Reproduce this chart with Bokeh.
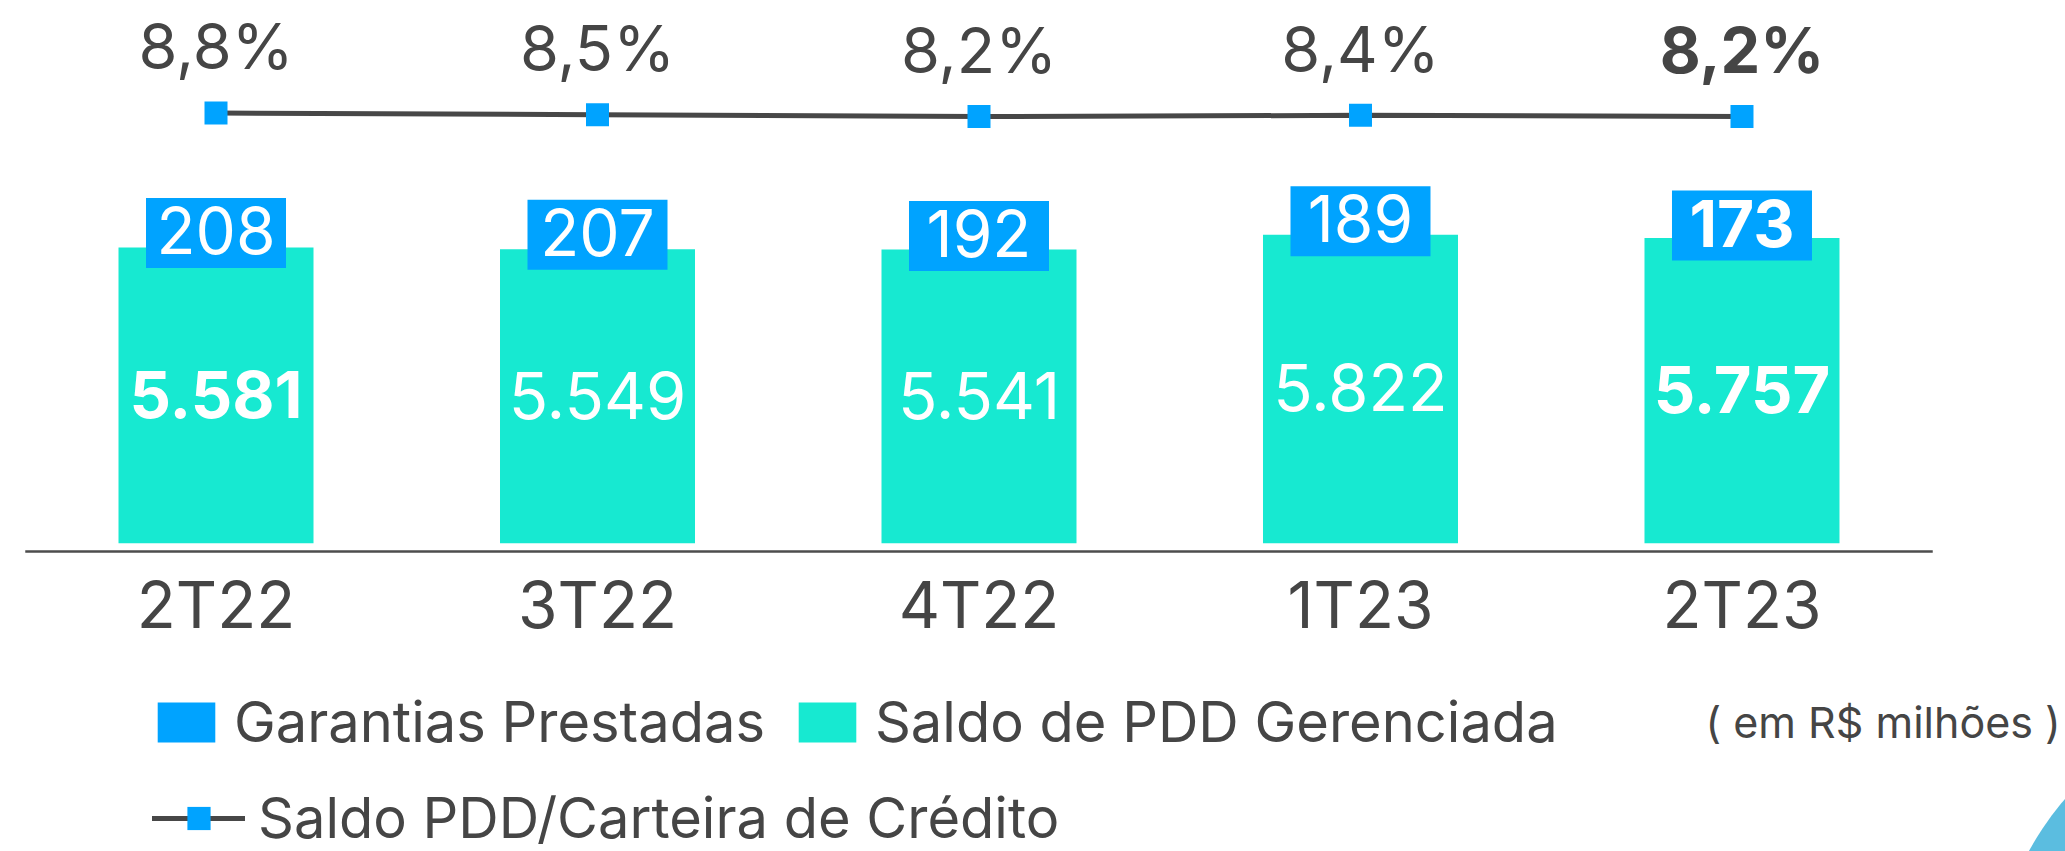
from bokeh.plotting import figure
from bokeh.models import ColumnDataSource, Range1d, Legend, LegendItem, Label
from bokeh.core.properties import value
from bokeh.embed import file_html
from bokeh.resources import INLINE

# ---------------- data ----------------
categorias = ["2T22", "3T22", "4T22", "1T23", "2T23"]
saldo_pdd_gerenciada = [5581, 5549, 5541, 5822, 5757]
garantias_prestadas = [208, 207, 192, 189, 173]
pdd_carteira = [8.8, 8.5, 8.2, 8.4, 8.2]
rotulos_barra = ["5.581", "5.549", "5.541", "5.822", "5.757"]
rotulos_garantia = ["208", "207", "192", "189", "173"]
rotulos_pct = ["8,8%", "8,5%", "8,2%", "8,4%", "8,2%"]

# ---------------- styles ----------------
estilo_barra = ["bold", "normal", "normal", "normal", "bold"]
estilo_garantia = ["normal", "normal", "normal", "normal", "bold"]
estilo_pct = ["normal", "normal", "normal", "normal", "bold"]

AZUL = "#00A3FF"
TURQUESA = "#17E9D1"
CINZA = "#454545"
DECOR = "#5BBDE0"
FONT_NAME = "Inter"
FONTE = value(FONT_NAME)
BASE_FIX = 0.37  # baseline correction (em) for alphabetic text

W, H = 2065, 851
X_START, X_END = -0.5649, 4.848
Y_START, Y_END = -5818, 10241
Y2_START, Y2_END = -117.87, 28.10
px_y = (Y_END - Y_START) / H
px_x = (X_END - X_START) / W

x = list(range(len(categorias)))
topo = [a + b for a, b in zip(saldo_pdd_gerenciada, garantias_prestadas)]
src = ColumnDataSource(dict(
    x=x,
    cat=categorias,
    pdd=saldo_pdd_gerenciada,
    gar=garantias_prestadas,
    topo=topo,
    meio=[v / 2 for v in saldo_pdd_gerenciada],
    caixa=[t + 3.5 * px_y for t in topo],
    pct=pdd_carteira,
    rot_barra=rotulos_barra,
    rot_gar=rotulos_garantia,
    rot_pct=rotulos_pct,
    est_barra=estilo_barra,
    est_gar=estilo_garantia,
    est_pct=estilo_pct,
))

p = figure(width=W, height=H, output_backend="svg", toolbar_location=None,
           x_range=Range1d(X_START, X_END), y_range=Range1d(Y_START, Y_END),
           x_axis_location=None, y_axis_location=None, min_border=0,
           outline_line_color=None, background_fill_color="white",
           border_fill_color="white")
p.grid.visible = False
p.extra_y_ranges = {"pct": Range1d(Y2_START, Y2_END)}

# slide decoration in the lower-right corner (screen-placed)
p.circle(x=X_START + 2300 * px_x, y=Y_END - 1000 * px_y, radius=310,
         radius_units="screen", fill_color=DECOR, line_color=None)

BAR_W = 195 * px_x
BOX_W, BOX_H = 140, 70
r_teal = p.vbar(x="x", width=BAR_W, bottom=0, top="pdd", source=src,
                fill_color=TURQUESA, line_color=None)
# Garantias Prestadas segment (sits beneath its label box)
r_blue = p.vbar(x="x", width=(BOX_W - 4) * px_x, bottom="pdd", top="topo",
                source=src, fill_color=AZUL, line_color=None)

# label boxes for Garantias Prestadas
p.rect(x="x", y="caixa", width=BOX_W, height=BOX_H, width_units="screen",
       height_units="screen", source=src, fill_color=AZUL, line_color=None)
FS_BOX = 64
p.text(x="x", y="caixa", text="rot_gar", source=src, text_align="center",
       text_baseline="alphabetic", y_offset=21.3 - BASE_FIX * FS_BOX,
       text_font=FONTE, text_font_size=f"{FS_BOX}px", text_color="white",
       text_font_style="est_gar")

# labels inside teal bars
FS_BAR = 65
p.text(x="x", y="meio", text="rot_barra", source=src, text_align="center",
       text_baseline="alphabetic", y_offset=23 - BASE_FIX * FS_BAR,
       text_font=FONTE, text_font_size=f"{FS_BAR}px", text_color="white",
       text_font_style="est_barra")

# baseline (category axis line)
p.segment(x0=x[0] - 0.5, x1=x[-1] + 0.5, y0=-8.3 * px_y, y1=-8.3 * px_y,
          line_color="#4d4d4d", line_width=2.5)

# category labels
FS_CAT = 64
p.text(x="x", y=0, text="cat", source=src, text_align="center",
       text_baseline="alphabetic", y_offset=85.3 - BASE_FIX * FS_CAT,
       text_font=FONTE, text_font_size=f"{FS_CAT}px", text_color=CINZA)

# line series on secondary range
r_line = p.line(x="x", y="pct", source=src, y_range_name="pct",
                line_color="#474747", line_width=5, line_cap="round")
r_sq = p.scatter(x="x", y="pct", source=src, y_range_name="pct",
                 marker="square", size=23, fill_color=AZUL, line_color=None)
FS_PCT = 63
p.text(x="x", y="pct", text="rot_pct", source=src, y_range_name="pct",
       text_align="center", text_baseline="alphabetic",
       y_offset=-43.5 - BASE_FIX * FS_PCT, text_font=FONTE,
       text_font_size=f"{FS_PCT}px", text_color=CINZA,
       text_font_style="est_pct")

# legends
FS_LEG = 56
ROW_H = 1.208 * FS_LEG
leg1 = Legend(items=[LegendItem(label="Garantias Prestadas", renderers=[r_blue]),
                     LegendItem(label="Saldo de PDD Gerenciada", renderers=[r_teal])],
              orientation="horizontal",
              location=(150, round(H - (722 + ROW_H / 2))),
              glyph_width=72, glyph_height=50, label_standoff=12, spacing=26,
              padding=0, margin=0, border_line_color=None,
              background_fill_alpha=0, label_text_font=FONT_NAME,
              label_text_font_size=f"{FS_LEG}px", label_text_color=CINZA)
leg2 = Legend(items=[LegendItem(label="Saldo PDD/Carteira de Crédito",
                                renderers=[r_line, r_sq])],
              orientation="horizontal",
              location=(152, round(H - (818 + ROW_H / 2))),
              glyph_width=93, glyph_height=58, label_standoff=13,
              padding=0, margin=0, border_line_color=None,
              background_fill_alpha=0, label_text_font=FONT_NAME,
              label_text_font_size=f"{FS_LEG}px", label_text_color=CINZA)
p.add_layout(leg1)
p.add_layout(leg2)

FS_NOTE = 43
p.add_layout(Label(x=1705, y=H - 737.3 + BASE_FIX * FS_NOTE, x_units="screen",
                   y_units="screen", text="( em R$ milhões )",
                   text_font=FONT_NAME, text_font_size=f"{FS_NOTE}px",
                   text_color=CINZA, text_baseline="alphabetic"))

open("out.html", "w").write(file_html(p, INLINE))
